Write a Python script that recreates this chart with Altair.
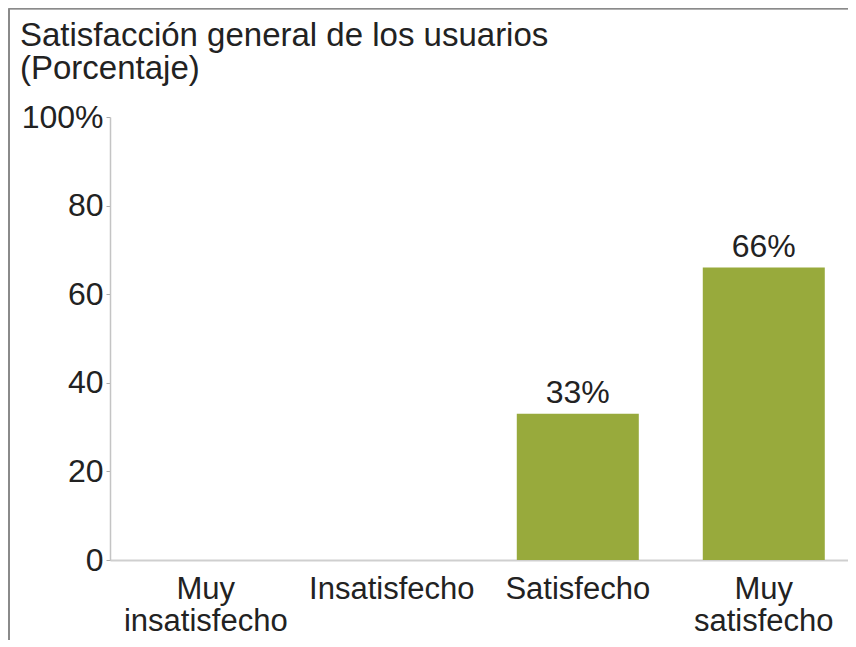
import altair as alt
import pandas as pd

categories = ["Muy insatisfecho", "Insatisfecho", "Satisfecho", "Muy satisfecho"]
values = [0, 0, 33, 66]
y_ticks = [0, 20, 40, 60, 80, 100]
title_lines = ["Satisfacción general de los usuarios", "(Porcentaje)"]

df = pd.DataFrame({"cat": categories, "val": values})
df["lab"] = df["val"].astype(str) + "%"

FONT = "Liberation Sans"
x_enc = alt.X(
    "cat:N", sort=categories, title=None,
    scale=alt.Scale(paddingInner=0.344, paddingOuter=0.156, align=0.6),
    axis=alt.Axis(
        labelExpr="split(datum.label, ' ')[0] == 'Muy' ? ['Muy', split(datum.label, ' ')[1]] : datum.label",
        labelAngle=0, labelFontSize=31, labelFont=FONT, labelColor="#222222",
        labelPadding=14, ticks=False, domainColor="#cfcfcf", domainWidth=2,
        labelLineHeight=32, labelBaseline="top",
    ),
)

bars = alt.Chart(df).mark_bar(color="#98aa3c").encode(
    x=x_enc,
    y=alt.Y(
        "val:Q", title=None,
        scale=alt.Scale(domain=[0, 100]),
        axis=alt.Axis(
            values=y_ticks, grid=False,
            labelExpr="datum.value == 100 ? '100%' : datum.label",
            labelFontSize=32, labelFont=FONT, labelColor="#222222",
            tickSize=4, tickColor="#aaaaaa", domainColor="#c4c4c4", domainWidth=1.5,
            labelPadding=3,
        ),
    ),
)

text = alt.Chart(df).transform_filter("datum.val > 0").mark_text(
    font=FONT, fontSize=32, color="#222222", baseline="alphabetic", dy=-11
).encode(x=alt.X("cat:N", sort=categories), y="val:Q", text="lab:N")

frame_top = alt.Chart(df).mark_rule(color="#8a8a8a", strokeWidth=1.5).encode(
    x=alt.value(-101), x2=alt.value(738), y=alt.value(-108.5)
)
frame_left = alt.Chart(df).mark_rule(color="#8a8a8a", strokeWidth=1.5).encode(
    x=alt.value(-101), y=alt.value(-108.5), y2=alt.value(523)
)

chart = (frame_top + frame_left + bars + text).properties(
    width=738, height=443,
    padding={"left": 102, "top": 109, "right": 0, "bottom": 80},
    autosize=alt.AutoSizeParams(type="none"),
    title=alt.TitleParams(
        text=title_lines, anchor="start", frame="group", dx=-90, dy=78,
        fontSize=33, font=FONT, fontWeight="normal", color="#222222",
        offset=0, lineHeight=33,
    ),
).configure_view(stroke=None)

chart.save("out.html", embed_options={"renderer": "svg", "actions": False})
